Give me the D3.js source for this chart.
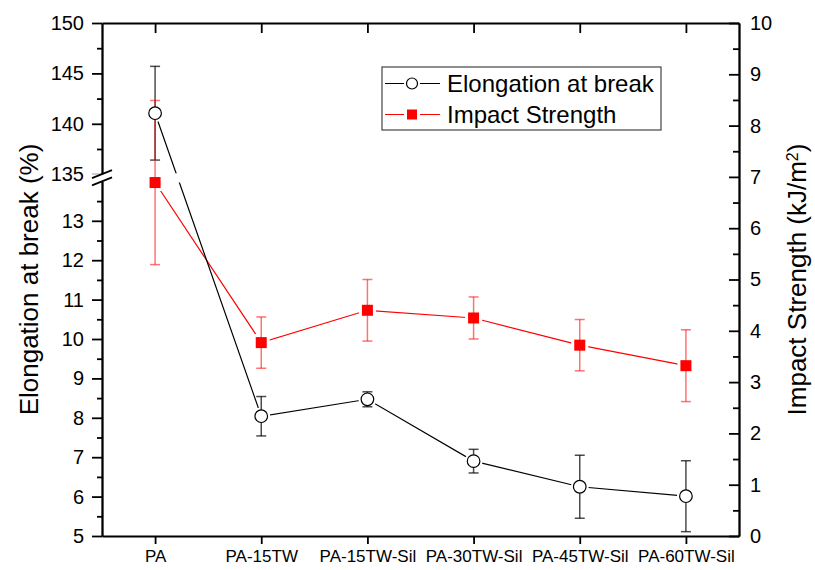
<!DOCTYPE html>
<html>
<head>
<meta charset="utf-8">
<script src="https://cdn.jsdelivr.net/npm/d3@7"></script>
<style>
    body { margin: 0; background: #fff; }
    svg { display: block; font-family: 'Liberation Sans', Arial, sans-serif; }
</style>
</head>
<body>
<svg id="chart" width="815" height="570"></svg>
<script>
const categories = ['PA', 'PA-15TW', 'PA-15TW-Sil', 'PA-30TW-Sil', 'PA-45TW-Sil', 'PA-60TW-Sil'];
const elongation = [141.05, 8.04, 8.47, 6.90, 6.25, 6.01];
const elongationErr = [4.65, 0.50, 0.19, 0.30, 0.80, 0.90];
const impact = [6.89, 3.77, 4.40, 4.25, 3.72, 3.32];
const impactErr = [1.60, 0.50, 0.60, 0.41, 0.50, 0.70];

const lowTicks = [5, 6, 7, 8, 9, 10, 11, 12, 13];
const lowMinor = [5.5, 6.5, 7.5, 8.5, 9.5, 10.5, 11.5, 12.5, 13.5];
const highTicks = [135, 140, 145, 150];
const highMinor = [137.5, 142.5, 147.5];
const rightTicks = [0, 1, 2, 3, 4, 5, 6, 7, 8, 9, 10];
const rightMinor = [0.5, 1.5, 2.5, 3.5, 4.5, 5.5, 6.5, 7.5, 8.5, 9.5];

const legendLabels = ['Elongation at break', 'Impact Strength'];

const plot = { left: 102, right: 739, top: 23, bottom: 536 };
// left axis is broken between 14 and 135
const breakLow = 181.4, breakHigh = 174.2;

const svg = d3.select('#chart');

const x = d3.scalePoint()
    .domain(categories)
    .range([plot.left, plot.right])
    .padding(0.5);
const yLow = d3.scaleLinear().domain([5, 14]).range([plot.bottom, breakLow]);
const yHigh = d3.scaleLinear().domain([135, 150]).range([breakHigh, plot.top]);
const yLeft = v => v >= 135 ? yHigh(v) : yLow(v);
const yRight = d3.scaleLinear().domain([0, 10]).range([plot.bottom, plot.top]);

function styleAxis(g, fontSize) {
    g.select('.domain').attr('stroke', '#000').attr('stroke-width', 1.8);
    g.selectAll('.tick line').attr('stroke', '#000').attr('stroke-width', 1.8);
    g.selectAll('.tick text')
        .attr('fill', '#000')
        .style('font-size', fontSize + 'px')
        .style('font-family', "'Liberation Sans', Arial, sans-serif");
}

// minor ticks without labels
function minorAxis(axis, values, size) {
    return axis.tickValues(values).tickSizeInner(size).tickSizeOuter(0).tickFormat('');
}

// left axis, lower and upper segments
const gLow = svg.append('g').attr('transform', `translate(${plot.left},0)`)
    .call(d3.axisLeft(yLow).tickValues(lowTicks).tickSize(10).tickSizeOuter(0).tickPadding(8));
styleAxis(gLow, 20);
const gLowMinor = svg.append('g').attr('transform', `translate(${plot.left},0)`)
    .call(minorAxis(d3.axisLeft(yLow), lowMinor, 5));
styleAxis(gLowMinor, 20);

const gHigh = svg.append('g').attr('transform', `translate(${plot.left},0)`)
    .call(d3.axisLeft(yHigh).tickValues(highTicks).tickSize(10).tickSizeOuter(0).tickPadding(8));
styleAxis(gHigh, 20);
const gHighMinor = svg.append('g').attr('transform', `translate(${plot.left},0)`)
    .call(minorAxis(d3.axisLeft(yHigh), highMinor, 5));
styleAxis(gHighMinor, 20);

// break marks
svg.append('rect')
    .attr('x', plot.left - 12).attr('y', breakHigh)
    .attr('width', 24).attr('height', breakLow - breakHigh)
    .attr('fill', '#fff');
[breakHigh, breakLow].forEach(yb => {
    svg.append('line')
        .attr('x1', plot.left - 10).attr('y1', yb + 4)
        .attr('x2', plot.left + 10).attr('y2', yb - 4)
        .attr('stroke', '#000').attr('stroke-width', 1.8);
});

// right axis, ticks inward
const gRight = svg.append('g').attr('transform', `translate(${plot.right},0)`)
    .call(d3.axisRight(yRight).tickValues(rightTicks).tickSizeInner(-10).tickSizeOuter(0).tickPadding(11));
styleAxis(gRight, 20);
const gRightMinor = svg.append('g').attr('transform', `translate(${plot.right},0)`)
    .call(minorAxis(d3.axisRight(yRight), rightMinor, -6));
styleAxis(gRightMinor, 20);

// bottom and top axes
const gBottom = svg.append('g').attr('transform', `translate(0,${plot.bottom})`)
    .call(d3.axisBottom(x).tickSize(8).tickSizeOuter(0).tickPadding(6));
styleAxis(gBottom, 17);
const gTop = svg.append('g').attr('transform', `translate(0,${plot.top})`)
    .call(d3.axisTop(x).tickSizeInner(-10).tickSizeOuter(0).tickFormat(''));
styleAxis(gTop, 17);

// axis titles
const midY = (plot.top + plot.bottom) / 2;
svg.append('text')
    .attr('transform', `translate(38,${midY}) rotate(-90)`)
    .attr('text-anchor', 'middle')
    .style('font-size', '26px')
    .text('Elongation at break (%)');
const rTitle = svg.append('text')
    .attr('transform', `translate(806,${midY}) rotate(-90)`)
    .attr('text-anchor', 'middle')
    .style('font-size', '26px');
rTitle.append('tspan').text('Impact Strength (kJ/m');
rTitle.append('tspan').attr('baseline-shift', 'super').style('font-size', '16px').text('2');
rTitle.append('tspan').text(')');

// data lines
const elongPts = categories.map((c, i) => [x(c), yLeft(elongation[i])]);
const impactPts = categories.map((c, i) => [x(c), yRight(impact[i])]);

// clip the elongation line where it crosses the axis break
const clip = svg.append('defs').append('clipPath').attr('id', 'breakClip');
clip.append('rect').attr('x', 0).attr('y', 0).attr('width', 815).attr('height', breakHigh - 1);
clip.append('rect').attr('x', 0).attr('y', breakLow + 1).attr('width', 815).attr('height', 570 - breakLow);

const line = d3.line();
svg.append('path')
    .attr('d', line(impactPts))
    .attr('fill', 'none').attr('stroke', '#ff0000').attr('stroke-width', 1.2);
svg.append('path')
    .attr('d', line(elongPts))
    .attr('clip-path', 'url(#breakClip)')
    .attr('fill', 'none').attr('stroke', '#000').attr('stroke-width', 1.2);

// white halos to leave a gap between lines and markers
svg.append('g').selectAll('circle')
    .data(elongPts).join('circle')
    .attr('cx', d => d[0]).attr('cy', d => d[1]).attr('r', 9)
    .attr('fill', '#fff');
svg.append('g').selectAll('rect')
    .data(impactPts).join('rect')
    .attr('x', d => d[0] - 8.5).attr('y', d => d[1] - 8.5)
    .attr('width', 17).attr('height', 17)
    .attr('fill', '#fff');

function errorBars(values, errs, yScale, color, opacity) {
    const g = svg.append('g')
        .attr('stroke', color).attr('stroke-width', 1.5).attr('stroke-opacity', opacity);
    categories.forEach((c, i) => {
        const cx = x(c);
        const y1 = yScale(values[i] + errs[i]);
        const y2 = yScale(values[i] - errs[i]);
        g.append('line').attr('x1', cx).attr('x2', cx).attr('y1', y1).attr('y2', y2);
        g.append('line').attr('x1', cx - 5).attr('x2', cx + 5).attr('y1', y1).attr('y2', y1);
        g.append('line').attr('x1', cx - 5).attr('x2', cx + 5).attr('y1', y2).attr('y2', y2);
    });
}
errorBars(elongation, elongationErr, yLeft, '#000', 0.7);
errorBars(impact, impactErr, yRight, '#ff0000', 0.55);

// markers
svg.append('g').selectAll('circle')
    .data(elongPts).join('circle')
    .attr('cx', d => d[0]).attr('cy', d => d[1]).attr('r', 6.3)
    .attr('fill', '#fff').attr('stroke', '#000').attr('stroke-width', 1.2);
svg.append('g').selectAll('rect')
    .data(impactPts).join('rect')
    .attr('x', d => d[0] - 5.5).attr('y', d => d[1] - 5.5)
    .attr('width', 11).attr('height', 11)
    .attr('fill', '#ff0000');

// legend
const legend = svg.append('g').attr('transform', 'translate(382,67)');
legend.append('rect')
    .attr('width', 279).attr('height', 63)
    .attr('fill', '#fff').attr('stroke', '#444').attr('stroke-width', 1.2);
legendLabels.forEach((label, i) => {
    const ly = 16.5 + i * 31;
    const color = i === 0 ? '#000' : '#ff0000';
    legend.append('line')
        .attr('x1', 3).attr('x2', 58).attr('y1', ly).attr('y2', ly)
        .attr('stroke', color).attr('stroke-width', 1.2);
    if (i === 0) {
        legend.append('circle').attr('cx', 30).attr('cy', ly).attr('r', 8).attr('fill', '#fff');
        legend.append('circle').attr('cx', 30).attr('cy', ly).attr('r', 5.5)
            .attr('fill', '#fff').attr('stroke', '#000').attr('stroke-width', 1.2);
    } else {
        legend.append('rect').attr('x', 22).attr('y', ly - 8).attr('width', 16).attr('height', 16).attr('fill', '#fff');
        legend.append('rect').attr('x', 25).attr('y', ly - 5).attr('width', 10).attr('height', 10).attr('fill', '#ff0000');
    }
    legend.append('text')
        .attr('x', 65).attr('y', ly).attr('dy', '0.35em')
        .style('font-size', '24px')
        .text(label);
});
</script>
</body>
</html>
